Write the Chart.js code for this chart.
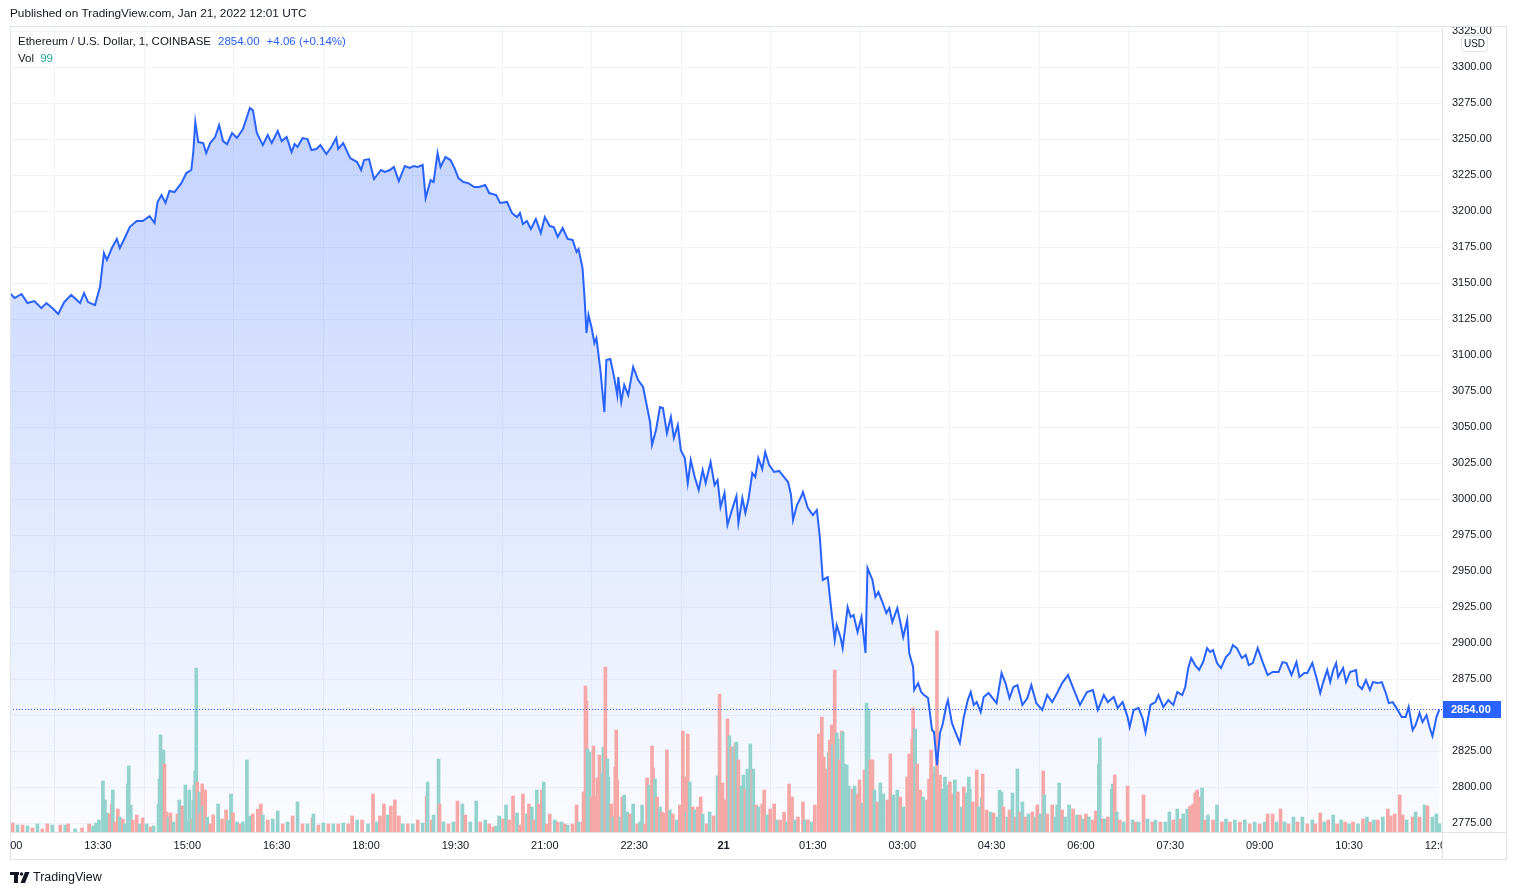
<!DOCTYPE html>
<html>
<head>
<meta charset="utf-8">
<script src="https://cdn.jsdelivr.net/npm/chart.js@4/dist/chart.umd.min.js"></script>
<style>
  html, body { margin: 0; padding: 0; background: #fff; overflow: hidden; }
  #myChart { display: block; }
</style>
</head>
<body>
<canvas id="myChart" width="1516" height="895"></canvas>
<script>
/**
 * ETH/USD 1 min, COINBASE - 2022-01-20 12:00 .. 2022-01-21 12:01 UTC
 * time = minutes after 12:00 on Jan 20
 */
const priceTimes = [
  1,6,13,19,26,33,38,44,50,56, 63,72,76,80,87,92,96,99,104,109,
  112,117,122,129,135,142,147,150,154,158, 162,167,174,179,184,186,188,191,196,199,
  203,208,212,216,220,225,230,236,240,243, 246,250,256,261,265,271,275,280,285,288,
  291,296,301,305,310,314,320,325,330,332, 337,344,351,355,358,363,368,375,379,384,
  388,393,399,404,408,412,417,420,425,428, 432,435,440,445,449,453,458,463,469,474,
  480,484,491,495,502,507,512,515,518,522, 526,531,536,540,545,549,553,558,563,568,
  572,574,578,580,582,584,587,590,592,596, 600,602,606,610,613,614,617,620,624,629,
  634,639,643,646,648,652,656,659,663,667, 670,674,677,681,684,687,691,695,699,702,
  707,711,714,717,721,724,727,730,733,735, 739,742,745,749,752,755,759,762,766,771,
  776,781,785,788,790,794,798,800,805,810, 814,817,820,825,828,832,834,838,840,845,
  848,851,855,859,863,865,870,873,876,880, 884,887,890,895,898,901,905,907,911,912,
  916,919,922,926,930,932,935,938,941,944, 946,950,954,958,962,966,969,972,975,979,
  982,987,991,995,1000,1004,1008,1012,1016,1021, 1026,1030,1035,1041,1046,1051,1056,1061,1067,1073,
  1079,1086,1092,1097,1103,1107,1113,1117,1122,1127, 1129,1133,1138,1142,1145,1150,1155,1158,1163,1168,
  1173,1177,1182,1185,1188,1191,1195,1199,1203,1207, 1210,1213,1217,1221,1226,1230,1233,1237,1242,1246,
  1249,1253,1258,1263,1268,1273,1279,1283,1287,1292, 1297,1300,1305,1308,1313,1317,1321,1324,1328,1331,
  1334,1337,1339,1344,1347,1351,1357,1359,1363,1367, 1371,1374,1379,1383,1387,1390,1394,1399,1403,1407,
  1410,1414,1417,1421,1424,1428,1431,1434,1438,1441
];
const prices = [
  3143.1,3139.6,3142.4,3136.1,3137.5,3132.6,3136.1,3132.6,3128.5,3136.8, 3141.7,3136.1,3143.1,3136.8,3134.7,3147.2,3170.8,3166.0,3174.3,3180.6,
  3174.3,3181.3,3188.9,3193.1,3193.1,3196.5,3191.7,3206.3,3211.1,3205.6, 3213.9,3213.2,3219.4,3226.4,3228.5,3241.0,3261.8,3247.9,3247.2,3240.3,
  3247.2,3251.4,3259.7,3248.6,3246.5,3254.2,3250.7,3257.0,3265.3,3271.5, 3270.1,3254.2,3245.8,3252.8,3247.2,3255.6,3248.6,3251.4,3241.0,3246.5,
  3244.5,3250.7,3250.0,3242.4,3243.1,3245.8,3239.6,3244.5,3250.7,3243.1, 3247.2,3236.8,3234.0,3228.5,3235.4,3236.1,3222.2,3228.5,3227.1,3228.5,
  3230.6,3220.8,3231.3,3229.9,3231.3,3230.6,3232.0,3209.0,3221.5,3220.1, 3240.3,3230.6,3237.5,3235.4,3229.9,3222.9,3220.1,3219.4,3216.7,3216.7,
  3218.1,3212.5,3211.1,3205.6,3206.3,3198.6,3195.8,3198.6,3191.0,3193.1, 3187.5,3194.5,3184.7,3195.8,3189.6,3188.9,3182.0,3188.2,3180.6,3179.9,
  3171.5,3173.6,3160.4,3140.3,3115.3,3127.8,3119.5,3108.3,3111.8,3089.6, 3060.4,3096.5,3097.2,3084.0,3072.2,3084.7,3067.4,3079.2,3072.2,3091.7,
  3082.6,3077.8,3063.9,3053.5,3037.5,3047.9,3063.9,3063.2,3045.8,3057.0, 3042.4,3051.4,3034.0,3028.5,3011.1,3027.1,3015.3,3006.3,3020.1,3011.1,
  3025.7,3009.7,3013.2,2994.5,3004.2,2982.0,2988.9,2995.8,3002.1,2983.3, 3000.7,2990.3,2999.3,3018.1,3015.3,3028.5,3020.8,3032.6,3023.6,3018.8,
  3019.5,3015.3,3011.8,3002.8,2985.4,2995.8,3001.4,3004.9,2993.8,2988.9, 2992.4,2973.6,2943.8,2945.8,2926.4,2902.1,2912.5,2903.5,2896.5,2925.0,
  2918.1,2919.4,2907.6,2918.1,2893.1,2952.1,2943.8,2932.0,2935.4,2928.5, 2920.8,2924.3,2914.6,2924.3,2914.6,2904.2,2916.0,2893.1,2883.3,2867.4,
  2872.2,2866.0,2863.9,2861.8,2839.6,2838.2,2815.3,2837.5,2844.5,2855.6, 2860.4,2844.5,2837.5,2830.6,2848.6,2860.4,2866.0,2857.0,2859.0,2852.1,
  2862.5,2865.3,2861.8,2858.3,2879.2,2872.2,2861.8,2869.5,2870.8,2857.0, 2861.8,2870.8,2858.3,2853.5,2863.9,2859.0,2865.3,2872.2,2877.8,2867.4,
  2857.0,2866.0,2867.4,2853.5,2863.9,2859.0,2862.5,2854.9,2859.0,2848.6, 2841.7,2853.5,2854.9,2847.9,2838.2,2857.0,2859.0,2863.9,2855.6,2860.4,
  2857.0,2866.0,2863.9,2869.5,2882.6,2889.6,2884.7,2881.3,2886.8,2896.5, 2893.8,2895.1,2886.1,2882.6,2890.3,2893.1,2898.6,2896.5,2889.6,2891.7,
  2884.7,2886.1,2896.5,2886.8,2877.8,2879.9,2879.9,2886.8,2886.1,2877.8, 2886.8,2876.4,2879.2,2879.2,2886.1,2876.4,2865.3,2872.9,2881.3,2872.9,
  2881.3,2886.1,2876.4,2882.6,2872.9,2879.9,2881.3,2870.8,2868.1,2874.3, 2867.4,2872.9,2872.2,2872.9,2865.3,2858.3,2859.0,2853.5,2848.6,2848.6,
  2855.6,2839.6,2843.1,2851.4,2845.1,2850.0,2841.7,2835.4,2848.6,2854.0
];

// volume (ETH) per sampled minute, 1 = up candle (green), 0 = down candle (red)
const volTimes = [
  4,9,14,19,24,29,34,39,44,52, 57,60,67,74,81,85,88,91,95,97, 99,102,104,105,107,110,112,115,117,120,
  121,123,125,129,132,135,139,143,146,151, 152,153,155,156,157,159,161,163,166,170, 172,175,178,180,182,185,186,187,188,189,
  190,192,193,195,196,198,200,203,206,211, 215,219,221,224,226,230,233,236,240,243, 246,251,254,256,261,266,271,276,281,286,
  291,296,301,306,307,312,317,322,327,332, 337,342,346,351,356,362,367,371,374,378, 382,385,389,393,397,402,407,412,417,421,
  422,426,428,433,434,438,443,448,452,457, 460,465,471,475,480,484,
  488,491,494,498,501,504,508,512,515,518, 522,524,527,529,532,534,537,539,542,545, 550,553,557,560,563,568,572,574,578,579,
  581,582,583,585,587,589,591,593,595,598, 599,601,603,604,607,609,611,612,613,616, 618,620,623,626,629,633,636,638,641,643,
  645,648,649,651,653,656,658,661,663,666, 669,673,676,679,681,683,684,686,689,691, 694,697,699,703,706,710,714,716,719,722,
  724,726,728,730,732,733,735,738,740,742, 744,747,749,750,753,755,759,761,764,767, 771,774,777,781,784,786,789,792,795,800,
  802,805,809,812,816,819,821,824,826,827, 829,830,832,834,835,837,839,840,842,844, 846,850,852,855,857,860,862,864,866,868,
  870,872,875,878,881,885,888,891,895,898, 901,905,907,910,911,913,915,918,921,925, 927,929,931,933,935,938,941,943,945,948,
  951,953,956,960,962,965,967,
  968,971,975,977,980,981,985,989,992,996, 998,1000,1002,1006,1008,1011,1014,1016,1019,1021, 1024,1027,1031,1034,1036,1039,1042,1043,1046,1051,
  1054,1056,1058,1061,1064,1068,1072,1076,1079,1082, 1085,1088,1092,1095,1098,1099,1102,1104,1107,1111, 1112,1114,1116,1119,1123,1127,1132,1135,1138,1143,
  1147,1152,1155,1160,1165,1169,1173,1177,1180,1183, 1187,1190,1193,1195,1197,1199,1202,1205,1208,1213, 1217,1222,1226,1230,1235,1240,1245,1250,1255,1260,
  1265,1268,1273,1277,1281,1285,1289,1294,1298,1303, 1308,1313,1316,1321,1325,1329,1334,1338,1342,1346, 1350,1354,1359,1364,1368,1371,1375,1379,1384,1389,
  1392,1396,1401,1404,1408,1414,1417,1421,1426,1429, 1434,1438,1441
];
const volumes = [
  108,84,84,72,48,96,36,96,84,84, 84,96,36,48,96,72,108,144,612,384, 228,216,336,504,120,276,180,156,96,576,
  792,324,144,204,96,168,96,60,72,336, 636,1164,480,984,816,240,180,228,120,216, 384,312,564,144,504,156,384,564,732,1968,
  600,480,228,576,312,504,180,96,204,336, 156,264,144,456,228,120,96,120,864,192, 216,276,336,204,144,156,252,96,120,192,
  360,96,96,168,216,84,108,96,96,96, 108,96,192,144,144,96,456,120,192,336, 204,312,384,192,96,96,96,144,108,432,
  600,144,204,876,336,120,96,120,372,336, 204,120,372,120,144,96,
  60,72,192,156,324,144,432,228,84,456, 216,336,300,144,504,336,504,600,96,216, 144,120,120,96,84,96,324,120,120,480,
  1752,1572,996,960,420,1032,432,648,924,708, 1020,1980,876,660,336,180,780,1224,624,180, 420,444,240,216,336,96,120,324,96,648,
  564,1032,768,636,420,300,240,228,984,264, 216,144,324,1212,660,240,1176,600,300,264, 300,420,216,96,240,192,672,1656,588,384,
  1356,1152,1020,1020,1068,1080,864,552,684,516, 756,1056,744,756,324,300,336,504,204,276, 336,144,144,240,120,576,420,144,180,360,
  144,144,120,324,1176,1380,900,756,960,1104, 1284,1044,1944,1188,1116,864,1212,1200,816,804, 552,516,552,456,624,348,744,1548,1476,864,
  864,504,360,588,456,384,936,444,504,420, 300,660,936,1116,1488,1236,816,504,420,384, 636,984,696,780,2412,684,516,660,564,600,
  456,624,480,300,540,468,660,
  516,360,744,300,408,696,264,240,228,180, 504,480,300,180,264,468,180,756,240,360, 180,216,240,180,324,216,732,444,216,324,
  180,324,588,264,180,324,276,204,204,156, 216,180,144,252,816,1128,156,156,180,516, 576,684,240,144,120,552,144,120,120,444,
  156,120,144,120,120,240,144,276,156,216, 276,312,336,468,504,420,528,144,204,144, 324,120,156,120,144,120,144,96,120,96,
  120,216,216,120,276,120,96,180,120,180, 96,144,96,228,120,144,204,96,144,120, 96,120,96,156,180,120,144,144,180,276,
  192,216,444,204,144,180,240,180,324,312, 180,216,99
];
const volUp = [
  0,1,0,1,0,1,0,0,1,0, 1,0,1,0,0,1,1,1,1,1, 1,0,0,1,0,0,1,0,1,1,
  1,1,0,0,1,0,1,0,1,1, 1,1,1,1,0,0,1,0,1,0, 1,0,1,1,1,0,1,1,1,1,
  0,1,0,0,1,0,1,0,0,1, 0,0,1,1,0,1,0,1,1,1, 0,0,0,1,0,1,1,0,1,0,
  1,0,1,0,1,0,1,0,1,0, 1,0,0,1,0,1,0,1,0,0, 1,0,0,0,1,0,1,0,1,0,
  1,0,1,1,0,1,0,1,0,1, 0,1,1,0,1,0,
  0,1,1,0,1,0,0,1,0,0, 1,0,1,0,1,0,0,1,0,0, 1,0,1,0,1,0,0,1,0,0,
  0,0,1,1,0,0,0,0,0,1, 1,0,1,1,0,1,0,0,0,1, 0,1,1,0,1,0,1,1,0,0,
  1,0,0,1,0,1,0,0,0,1, 0,1,0,0,0,1,0,1,0,1, 0,0,1,0,1,0,1,0,0,0,
  0,1,0,1,0,1,0,1,1,0, 1,1,0,1,0,1,0,0,1,0, 0,1,0,0,1,0,0,1,0,0,
  1,0,1,0,0,0,0,0,1,0, 0,1,0,1,1,0,0,1,1,1, 1,0,1,0,0,1,0,1,1,0,
  0,1,0,1,1,0,0,1,1,0, 1,0,0,0,0,1,0,0,1,0, 0,0,0,1,0,0,1,1,1,0,
  0,1,0,1,0,1,1,
  1,0,0,1,1,0,0,1,0,1, 1,1,0,1,0,1,0,1,0,1, 0,1,0,1,0,1,0,1,0,0,
  1,1,1,0,1,1,0,1,0,1, 0,1,0,0,1,1,0,1,0,1, 1,0,1,0,1,0,1,0,1,0,
  1,0,1,0,1,1,0,1,0,1, 1,0,0,0,0,0,1,0,1,0, 1,0,1,0,1,0,1,0,1,0,
  1,0,0,1,0,1,0,1,0,1, 0,1,0,0,1,0,1,0,1,0, 1,0,1,0,1,0,1,0,1,0,
  0,0,0,0,1,0,1,0,1,0, 1,1,1
];

// time axis
const timeTicks = [0,90,180,270,360,450,540,630,720,810,900,990,1080,1170,1260,1350,1440];
const timeLabels = ['12:00','13:30','15:00','16:30','18:00','19:30','21:00','22:30','21',
                    '01:30','03:00','04:30','06:00','07:30','09:00','10:30','12:00'];

const lastPrice = 2854.00;
const lastChange = '+4.06 (+0.14%)';
const lastVol = '99';

const FONT = '"Liberation Sans", Arial, sans-serif';
const TEXT = '#131722';
const BLUE = '#2962ff';
const BORDER = '#e0e3eb';
const GRID = '#f0f3fa';

/**
 * 文字や枠など、チャート以外の部分
 */
const decor = {
  id: 'decor',
  afterDatasetsDraw(chart) {
    const { ctx, chartArea: a, scales } = chart;
    const y = Math.round(scales.y.getPixelForValue(lastPrice)) + 0.5;
    ctx.save();
    ctx.strokeStyle = BLUE;
    ctx.lineWidth = 1;
    ctx.setLineDash([1, 2]);
    ctx.beginPath();
    ctx.moveTo(a.left, y);
    ctx.lineTo(a.right, y);
    ctx.stroke();
    ctx.restore();
  },
  afterDraw(chart) {
    const { ctx, chartArea: a, scales } = chart;
    ctx.save();

    // hide the part of the top price label above the frame
    ctx.fillStyle = '#fff';
    ctx.fillRect(a.right + 1, 0, 1516 - a.right, a.top);

    // title
    ctx.fillStyle = TEXT;
    ctx.font = '11.8px ' + FONT;
    ctx.textBaseline = 'middle';
    ctx.textAlign = 'left';
    ctx.fillText('Published on TradingView.com, Jan 21, 2022 12:01 UTC', 10, 14);

    // frame
    ctx.strokeStyle = BORDER;
    ctx.lineWidth = 1;
    ctx.strokeRect(10.5, a.top - 0.5, 1496, 859 - a.top + 1);
    ctx.beginPath();
    ctx.moveTo(a.right + 0.5, a.top); ctx.lineTo(a.right + 0.5, 859);
    ctx.moveTo(10, a.bottom + 0.5); ctx.lineTo(1506, a.bottom + 0.5);
    ctx.stroke();

    // time labels
    ctx.save();
    ctx.beginPath();
    ctx.rect(a.left, a.bottom + 1, a.right - a.left, 26);
    ctx.clip();
    ctx.textAlign = 'center';
    ctx.fillStyle = TEXT;
    timeTicks.forEach((t, i) => {
      ctx.font = (timeLabels[i] === '21' ? 'bold ' : '') + '11px ' + FONT;
      ctx.fillText(timeLabels[i], scales.x.getPixelForValue(t), a.bottom + 14);
    });
    ctx.restore();

    // USD badge
    ctx.fillStyle = '#fff';
    ctx.strokeStyle = BORDER;
    ctx.beginPath();
    ctx.roundRect(1461.5, 35.5, 26, 16, 3);
    ctx.fill();
    ctx.stroke();
    ctx.fillStyle = TEXT;
    ctx.font = '10px ' + FONT;
    ctx.textAlign = 'center';
    ctx.fillText('USD', 1474.5, 44);

    // last price label
    const py = Math.round(scales.y.getPixelForValue(lastPrice));
    ctx.fillStyle = BLUE;
    ctx.fillRect(a.right + 1, py - 8, 58, 17);
    ctx.fillStyle = '#fff';
    ctx.font = 'bold 11px ' + FONT;
    ctx.textAlign = 'left';
    ctx.fillText(lastPrice.toFixed(2), a.right + 9, py + 1);

    // legend
    ctx.font = '11.5px ' + FONT;
    ctx.fillStyle = TEXT;
    let x = 18;
    const s1 = 'Ethereum / U.S. Dollar, 1, COINBASE';
    ctx.fillText(s1, x, 42);
    x += ctx.measureText(s1).width + 7;
    ctx.fillStyle = BLUE;
    ctx.fillText(lastPrice.toFixed(2), x, 42);
    x += ctx.measureText(lastPrice.toFixed(2)).width + 7;
    ctx.fillText(lastChange, x, 42);
    ctx.fillStyle = TEXT;
    ctx.fillText('Vol', 18, 59);
    ctx.fillStyle = '#26a69a';
    ctx.fillText(lastVol, 18 + ctx.measureText('Vol ').width + 3, 59);

    // TradingView logo
    ctx.fillStyle = TEXT;
    ctx.fillRect(10, 872, 9, 3);
    ctx.fillRect(14, 872, 4, 11);
    ctx.beginPath();
    ctx.arc(21.5, 874, 1.7, 0, Math.PI * 2);
    ctx.fill();
    ctx.beginPath();
    ctx.moveTo(25, 872); ctx.lineTo(29.5, 872); ctx.lineTo(25, 883); ctx.lineTo(20.5, 883);
    ctx.closePath();
    ctx.fill();
    ctx.font = '12.5px ' + FONT;
    ctx.textAlign = 'left';
    ctx.fillText('TradingView', 33, 878);

    ctx.restore();
  }
};

const areaFill = (context) => {
  const area = context.chart.chartArea;
  if (!area) return 'rgba(41,98,255,0.2)';
  const g = context.chart.ctx.createLinearGradient(0, area.top, 0, area.bottom);
  g.addColorStop(0, 'rgba(41,98,255,0.31)');
  g.addColorStop(1, 'rgba(41,98,255,0.025)');
  return g;
};

const data = {
  datasets: [
    {
      type: 'line',
      label: 'ETHUSD',
      data: priceTimes.map((t, i) => ({ x: t, y: prices[i] })),
      borderColor: BLUE,
      borderWidth: 2,
      pointRadius: 0,
      tension: 0,
      fill: 'start',
      backgroundColor: areaFill,
      yAxisID: 'y',
      order: 0,
    },
    {
      type: 'bar',
      label: 'Vol',
      data: volTimes.map((t, i) => ({ x: t, y: volumes[i] })),
      backgroundColor: volUp.map(u => (u ? '#94d3cd' : '#f5a8a6')),
      barThickness: 3,
      yAxisID: 'v',
      order: 1,
    },
  ],
};

const config = {
  type: 'bar',
  data: data,
  options: {
    responsive: false,
    animation: false,
    events: [],
    layout: { padding: { left: 10, right: 10, top: 27, bottom: 36 } },
    plugins: {
      legend: { display: false },
      tooltip: { enabled: false },
      filler: { drawTime: 'beforeDatasetsDraw' },
    },
    scales: {
      x: {
        type: 'linear',
        min: 1.4,
        max: 1443.6,
        offset: false,
        ticks: { display: false, stepSize: 90, includeBounds: false },
        grid: { color: GRID, drawTicks: false },
        border: { display: false },
        afterFit: (s) => { s.height = 27; },
      },
      y: {
        position: 'right',
        min: 2768.8,
        max: 3327.8,
        ticks: {
          stepSize: 25,
          includeBounds: false,
          padding: 10,
          color: TEXT,
          font: { family: FONT, size: 11 },
          callback: (v) => v.toFixed(2),
        },
        grid: { color: GRID, drawTicks: false },
        border: { display: false },
        afterFit: (s) => { s.width = 64; },
      },
      v: {
        display: false,
        min: 0,
        max: 9660,
      },
    },
  },
  plugins: [decor],
};

const myChart = new Chart(document.getElementById('myChart'), config);
</script>
</body>
</html>
